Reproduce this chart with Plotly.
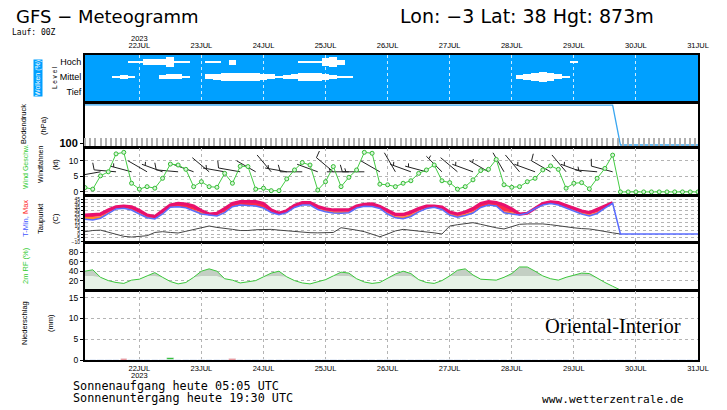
import numpy as np
import pandas as pd
import plotly.graph_objects as go

# ---------------- data ----------------
run_start = "2023-07-21 03:00"
run_end = "2023-07-31 00:00"
day_ticks = ["2023-07-22", "2023-07-23", "2023-07-24", "2023-07-25", "2023-07-26",
             "2023-07-27", "2023-07-28", "2023-07-29", "2023-07-30", "2023-07-31"]
day_tick_labels = ["22JUL", "23JUL", "24JUL", "25JUL", "26JUL", "27JUL",
                   "28JUL", "29JUL", "30JUL", "31JUL"]
year_label = "2023"
cloud_level_names = ["Tief", "Mittel", "Hoch"]

# cloud cover (%) every 3 h
cloud_high = [0, 0, 0, 0, 0, 0, 10, 10, 45, 50, 45, 80, 15, 10, 0, 0, 10, 10, 0, 40,
              0, 0, 0, 0, 0, 0, 0, 0, 10, 10, 15, 60, 80, 40, 0, 0, 0, 0, 0, 0,
              0, 0, 0, 0, 0, 0, 0, 0, 0, 0, 0, 0, 0, 0, 0, 0, 0, 0, 0, 0,
              0, 0, 0, 20, 0, 0, 0, 0, 0, 0, 0, 0, 0, 0, 0, 0, 0, 0, 0, 0]
cloud_mid = [0, 0, 0, 0, 20, 30, 10, 0, 0, 0, 30, 40, 40, 20, 0, 0, 40, 50, 60, 70,
             70, 60, 60, 50, 40, 20, 30, 40, 60, 70, 60, 50, 30, 20, 10, 0, 0, 0, 0, 0,
             0, 0, 0, 0, 0, 0, 0, 0, 0, 0, 0, 0, 0, 0, 0, 0, 30, 50, 60, 80,
             60, 40, 20, 0, 0, 0, 0, 0, 0, 0, 0, 0, 0, 0, 0, 0, 0, 0, 0, 0]

# surface pressure (hPa) - off the top of its scale until the run ends
surface_pressure = [913, 913, 914, 914, 913, 912, 912, 913, 914, 914, 913, 912, 911, 912, 913,
                    914, 914, 913, 912, 911, 911, 912, 913, 913, 912, 911, 911, 912, 913, 913,
                    912, 912, 913, 914, 914, 913, 912, 912, 913, 914, 915, 915, 914, 913, 913,
                    914, 915, 915, 914, 913, 912, 913, 914, 914, 913, 912, 912, 913, 913, 912,
                    911, 911, 912, 913, 913, 912, 911, 911, 910,
                    0, 0, 0, 0, 0, 0, 0, 0, 0, 0, 0]

# wind speed (kt) and direction (deg)
wind_speed = [1.4, 0.9, 5.2, 6.5, 12.3, 12.8, 2.8, 0.9, 1.7, 1.2, 4.4, 9.0, 8.7, 7.3, 1.7,
              3.3, 1.7, 1.5, 6.0, 2.8, 8.3, 8.2, 0.9, 1.2, 0.4, 0.4, 4.2, 7.1, 9.5, 8.7,
              0.6, 3.3, 8.2, 1.7, 4.7, 7.1, 12.8, 12.5, 2.5, 2.3, 1.7, 2.8, 3.6, 6.0, 7.1,
              8.7, 3.6, 3.0, 0.9, 1.7, 3.9, 6.9, 7.3, 10.5, 2.3, 1.5, 1.7, 3.3, 4.4, 7.1,
              8.4, 7.3, 1.2, 2.8, 3.0, 1.0, 4.4, 7.6, 11.9,
              0, 0, 0, 0, 0, 0, 0, 0, 0, 0, 0]
wind_dir = [280, 270, 260, 265, 275, 280, 285, 290, 300, 310, 290, 280, 275, 270, 290, 300,
            310, 290, 280, 275, 280, 285, 300, 310, 320, 300, 280, 275, 270, 280, 290, 300,
            310, 285, 270, 265, 270, 280, 300, 320, 330, 310, 290, 280, 285, 300, 315, 320,
            310, 300, 290, 280, 300, 320, 330, 340, 320, 300, 290, 285, 300, 310, 320, 300,
            290, 280, 275, 280, 285]

# temperature (C)
t_min = [19.0, 18.1, 20.3, 26.7, 32.3, 33.2, 31.0, 25.8, 21.0, 19.4,
         25.8, 34.5, 35.2, 33.9, 30.1, 25.8, 24.5, 23.2, 27.5, 35.2,
         37.4, 36.8, 36.1, 33.5, 27.7, 24.8, 27.5, 34.2, 37.4, 37.4,
         31.6, 28.6, 27.1, 26.8, 27.5, 33.5, 35.7, 35.5, 32.9, 25.8,
         20.9, 19.6, 22.6, 28.6, 32.9, 34.5, 31.6, 24.5, 21.7, 23.9,
         27.1, 34.2, 37.4, 36.1, 27.5, 25.8, 24.5, 27.1, 32.9, 37.4,
         39.4, 37.4, 33.5, 29.7, 25.8, 23.2, 26.5, 33.5, 39.6,
         0, 0, 0, 0, 0, 0, 0, 0, 0, 0, 0]
t_mean = [22.0, 22.0, 23.0, 27.5, 32.5, 33.4, 31.5, 27.0, 23.0, 21.0,
          27.0, 34.7, 35.5, 34.2, 31.0, 27.5, 25.2, 25.0, 28.5, 35.5,
          37.6, 37.0, 36.3, 34.0, 29.0, 26.0, 28.5, 34.5, 37.6, 37.6,
          32.5, 30.5, 29.0, 29.0, 29.0, 33.8, 35.9, 35.8, 33.5, 27.5,
          23.0, 22.5, 25.0, 30.0, 33.5, 34.8, 32.5, 26.5, 24.0, 26.0,
          29.0, 34.5, 37.6, 36.5, 29.5, 28.0, 25.2, 27.0, 33.2, 37.6,
          39.6, 37.6, 34.0, 31.0, 27.5, 25.5, 28.0, 33.8, 39.8]
t_max = [24.5, 25.2, 25.8, 31.0, 35.2, 36.1, 35.2, 30.3, 24.5, 22.6,
         30.1, 37.4, 39.6, 38.7, 36.1, 30.1, 25.8, 26.5, 32.9, 39.4,
         41.7, 41.7, 41.7, 39.4, 31.0, 26.7, 30.1, 36.8, 40.4, 40.4,
         35.5, 32.5, 31.0, 31.0, 31.0, 36.1, 38.1, 38.7, 35.5, 30.3,
         25.2, 25.2, 28.4, 32.9, 36.1, 36.1, 34.8, 28.4, 25.8, 28.4,
         32.9, 39.4, 41.7, 40.6, 37.4, 32.3, 25.8, 26.7, 32.9, 39.4,
         41.5, 40.4, 36.8, 32.9, 29.7, 27.5, 31.6, 36.8, 40.4]
dewpoint = [3.0, 4.5, 5.0, 2.5, -0.5, -3.0, -3.9, -3.0, -2.2, 2.0,
            3.0, 2.0, 1.3, 3.5, 6.0, 8.5, 10.3, 8.5, 6.8, 6.0,
            4.5, 4.5, 5.5, 6.0, 6.0, 5.0, 4.0, 3.0, 2.0, 1.7,
            1.5, 1.5, 2.0, 8.1, 7.0, 5.0, 3.0, 0.0, -3.5, 0.0,
            4.0, 6.0, 5.0, 4.0, 3.0, 1.5, 0.0, 10.3, 12.0, 13.5,
            14.6, 12.5, 10.0, 8.0, 6.5, 9.5, 12.5, 13.0, 13.0, 13.0,
            12.0, 10.5, 9.0, 8.0, 7.0, 6.5, 5.0, 3.0, 1.5, 0.0]

# 2 m relative humidity (%)
rel_hum = [40, 43, 27, 20, 16, 14, 21, 23, 30, 37,
           27, 18, 13, 16, 27, 40, 45, 40, 24, 21,
           15, 18, 20, 28, 36, 40, 28, 20, 15, 13,
           17, 22, 30, 38, 36, 24, 17, 14, 16, 25,
           34, 40, 35, 22, 16, 14, 20, 30, 42, 45,
           32, 23, 22, 21, 27, 35, 49, 49, 40, 30,
           24, 21, 27, 32, 36, 35, 25, 16, 8, 0]
rh_threshold = 30

# precipitation (mm / 3 h)
precip_large = [0, 0, 0, 0, 0, 0, 0, 0, 0, 0, 0, 0.5, 0, 0, 0, 0, 0, 0, 0, 0,
                0, 0, 0, 0, 0, 0, 0, 0, 0, 0, 0, 0, 0, 0, 0, 0, 0, 0, 0, 0,
                0, 0, 0, 0, 0, 0, 0, 0, 0, 0, 0, 0, 0, 0, 0, 0, 0, 0, 0, 0,
                0, 0, 0, 0, 0, 0, 0, 0, 0, 0, 0, 0, 0, 0, 0, 0, 0, 0, 0, 0]
precip_conv = [0, 0, 0, 0, 0, 0.15, 0, 0, 0, 0, 0, 0, 0, 0, 0, 0, 0, 0, 0, 0.15,
               0, 0, 0, 0, 0, 0, 0, 0, 0, 0, 0, 0, 0, 0, 0, 0, 0, 0, 0, 0,
               0, 0, 0, 0, 0, 0, 0, 0, 0, 0, 0, 0, 0, 0, 0, 0, 0, 0, 0, 0,
               0, 0, 0, 0, 0, 0, 0, 0, 0, 0, 0, 0, 0, 0, 0, 0, 0, 0, 0, 0]

# ---------------- geometry / helpers ----------------
W, H = 727, 410
ML, MR, MT, MB = 85, 29, 55, 50
PW, PH = W - ML - MR, H - MT - MB

t0 = pd.Timestamp("2023-07-21 00:00")
times = pd.date_range(run_start, run_end, freq="3h")
hours = ((times - t0) / pd.Timedelta(hours=1)).to_numpy()
day_hours = ((pd.to_datetime(day_ticks) - t0) / pd.Timedelta(hours=1)).to_numpy()
x_range = [hours[0], hours[-1]]


def dom(top_px, bot_px):
    return [(MT + PH - bot_px) / PH, (MT + PH - top_px) / PH]


def pxp(xpx, ypx):
    return (xpx - ML) / PW, (MT + PH - ypx) / PH


DOMAINS = {
    "clouds": dom(55, 102),
    "press": dom(103, 147),
    "wind": dom(148, 195),
    "temp": dom(196, 242),
    "rh": dom(243, 290),
    "prec": dom(291, 360),
}

fig = go.Figure()

# ---- clouds ----
CLOUD_ROWS = [0.62, 1.6, 2.55]
CLOUD_SCALE = 0.008
for level, cover in ((CLOUD_ROWS[2], cloud_high), (CLOUD_ROWS[1], cloud_mid)):
    cover = np.array(cover, dtype=float)
    thick = cover * CLOUD_SCALE
    fig.add_trace(go.Bar(x=hours, y=thick, base=level - thick / 2, width=3,
                         marker=dict(color="white", line=dict(width=0)),
                         xaxis="x", yaxis="y", showlegend=False, hoverinfo="skip"))

# ---- surface pressure ----
fig.add_trace(go.Scatter(x=hours, y=surface_pressure, mode="lines",
                         line=dict(color="#3aa6f0", width=1.3),
                         xaxis="x2", yaxis="y2", showlegend=False))

# ---- wind ----
PX_PER_H = PW / (x_range[1] - x_range[0])
WIND_RANGE = [-1.0, 14.2]
KT_PER_PX = (WIND_RANGE[1] - WIND_RANGE[0]) / 47
BARB_BASE = 6.5
bx, by = [], []
for h, spd, d in list(zip(hours, wind_speed, wind_dir))[::2]:
    r = np.radians(d)
    ux, uy = np.sin(r), np.cos(r)
    qx, qy = uy, -ux

    def seg(a, b):
        bx.extend([h + a[0] / PX_PER_H, h + b[0] / PX_PER_H, None])
        by.extend([BARB_BASE + a[1] * KT_PER_PX, BARB_BASE + b[1] * KT_PER_PX, None])

    L = 22
    tip = (L * ux, L * uy)
    seg((0, 0), tip)
    r5 = int(round(spd / 5))
    n10, n5 = divmod(r5, 2)
    pos = 0.0
    for _ in range(n10):
        b0 = (tip[0] - pos * ux, tip[1] - pos * uy)
        seg(b0, (b0[0] + 7 * qx + 2 * ux, b0[1] + 7 * qy + 2 * uy))
        pos += 3.5
    if n5:
        if n10 == 0:
            pos = 3.5
        b0 = (tip[0] - pos * ux, tip[1] - pos * uy)
        seg(b0, (b0[0] + 3.5 * qx + 1 * ux, b0[1] + 3.5 * qy + 1 * uy))

fig.add_trace(go.Scatter(x=bx, y=by, mode="lines", line=dict(color="#222222", width=1),
                         xaxis="x3", yaxis="y3", showlegend=False, hoverinfo="skip"))
fig.add_trace(go.Scatter(x=hours, y=wind_speed, mode="lines+markers",
                         line=dict(color="#44cc44", width=1),
                         marker=dict(symbol="circle", size=4, color="#d8f5d8",
                                     line=dict(color="#33bb33", width=1)),
                         xaxis="x3", yaxis="y3", showlegend=False))

# ---- temperature ----
n_t = len(t_max)
fig.add_trace(go.Scatter(x=hours[:n_t], y=t_min[:n_t], mode="lines", line=dict(width=0),
                         xaxis="x4", yaxis="y4", showlegend=False, hoverinfo="skip"))
fig.add_trace(go.Scatter(x=hours[:n_t], y=t_mean, mode="lines", line=dict(width=0),
                         fill="tonexty", fillcolor="#ff8a26",
                         xaxis="x4", yaxis="y4", showlegend=False, hoverinfo="skip"))
fig.add_trace(go.Scatter(x=hours[:n_t], y=t_max, mode="lines",
                         line=dict(color="#e8106e", width=3.2),
                         fill="tonexty", fillcolor="#ff2a48",
                         xaxis="x4", yaxis="y4", showlegend=False))
fig.add_trace(go.Scatter(x=hours[:len(dewpoint)], y=dewpoint, mode="lines",
                         line=dict(color="#444444", width=1),
                         xaxis="x4", yaxis="y4", showlegend=False))
fig.add_trace(go.Scatter(x=hours, y=t_min, mode="lines",
                         line=dict(color="#5a6cff", width=1.5),
                         xaxis="x4", yaxis="y4", showlegend=False))

# ---- relative humidity ----
rh = np.array(rel_hum, dtype=float)
fig.add_trace(go.Scatter(x=hours[:len(rh)], y=rh, mode="lines", line=dict(width=0),
                         fill="tozeroy", fillcolor="#c3cfc3",
                         xaxis="x5", yaxis="y5", showlegend=False, hoverinfo="skip"))
fig.add_trace(go.Scatter(x=hours[:len(rh)], y=np.minimum(rh, rh_threshold), mode="lines",
                         line=dict(width=0), fill="tozeroy", fillcolor="#e6f2e6",
                         xaxis="x5", yaxis="y5", showlegend=False, hoverinfo="skip"))
fig.add_trace(go.Scatter(x=hours[:len(rh)], y=rh, mode="lines",
                         line=dict(color="#3cc83c", width=1),
                         xaxis="x5", yaxis="y5", showlegend=False))

# ---- precipitation ----
fig.add_trace(go.Bar(x=hours, y=precip_large, width=2.5, marker=dict(color="#22bb22"),
                     xaxis="x6", yaxis="y6", showlegend=False))
fig.add_trace(go.Bar(x=hours, y=precip_conv, width=2.5, marker=dict(color="#ee2222"),
                     xaxis="x6", yaxis="y6", showlegend=False))

# ---------------- axes ----------------
TICKFONT = dict(family="Liberation Sans, Arial, sans-serif", size=8.5, color="black")
GRID = "#b4b4b4"


def xax(anchor, **kw):
    d = dict(domain=[0, 1], range=x_range, anchor=anchor, tickmode="array",
             tickvals=day_hours, ticktext=day_tick_labels, showgrid=True, gridcolor=GRID,
             griddash="dot", gridwidth=1,
             zeroline=False, showline=True, mirror=True, linecolor="black", linewidth=2,
             ticks="", showticklabels=False, automargin=False,
             tickfont=dict(TICKFONT, size=7.5))
    d.update(kw)
    return d


def yax(domain_key, anchor, **kw):
    d = dict(domain=DOMAINS[domain_key], anchor=anchor, showgrid=True, gridcolor=GRID,
             griddash="dot", gridwidth=1, zeroline=False, showline=True, mirror=True,
             linecolor="black", linewidth=2, ticks="outside", ticklen=3, tickcolor="black",
             tickfont=TICKFONT, fixedrange=True, automargin=False)
    d.update(kw)
    return d


fig.update_layout(
    xaxis=xax("y", side="top", showticklabels=True, gridcolor="rgba(255,255,255,0.8)",
              ticklabelstandoff=2),
    yaxis=yax("clouds", "x", range=[0, 3.0], tickmode="array", tickvals=CLOUD_ROWS,
              ticktext=cloud_level_names, showgrid=False, ticks="outside", ticklen=0,
              tickfont=dict(TICKFONT, size=9)),
    xaxis2=xax("y2", showgrid=False,
               minor=dict(ticks="inside", ticklen=9, tickwidth=2, tickcolor="#b0b0b0",
                          tickmode="linear", tick0=3, dtick=2, showgrid=False)),
    yaxis2=yax("press", "x2", range=[-46, 958], tickmode="array", tickvals=[40],
               ticktext=["<b>100</b>"], showgrid=False, tickfont=dict(TICKFONT, size=11)),
    xaxis3=xax("y3"),
    yaxis3=yax("wind", "x3", range=WIND_RANGE, tickmode="array", tickvals=[0, 5, 10]),
    xaxis4=xax("y4"),
    yaxis4=yax("temp", "x4", range=[-10.3, 49], tickmode="array",
               tickvals=list(range(-10, 50, 5)), tickfont=dict(TICKFONT, size=5), ticklen=2),
    xaxis5=xax("y5"),
    yaxis5=yax("rh", "x5", range=[0, 100], tickmode="array", tickvals=[20, 40, 60, 80]),
    xaxis6=xax("y6", showticklabels=True),
    yaxis6=yax("prec", "x6", range=[0, 16.6], tickmode="array", tickvals=[0, 5, 10, 15]),
    barmode="overlay",
    bargap=0,
    width=W, height=H,
    margin=dict(l=ML, r=MR, t=MT, b=MB, autoexpand=False),
    paper_bgcolor="white", plot_bgcolor="white",
    showlegend=False,
)

# blue background of the cloud panel
fig.add_shape(type="rect", xref="x domain", yref="y domain", x0=0, x1=1, y0=0, y1=1,
              fillcolor="#00a0ff", line=dict(width=0), layer="below")

# ---------------- texts ----------------
ann = []


def text(xpx, ypx, s, size=9, color="black", family="Liberation Sans, Arial, sans-serif",
         angle=0, xanchor="center", bg=None):
    x, y = pxp(xpx, ypx)
    a = dict(x=x, y=y, xref="paper", yref="paper", text=s, showarrow=False,
             textangle=angle, xanchor=xanchor, yanchor="middle",
             font=dict(size=size, color=color, family=family))
    if bg:
        a["bgcolor"] = bg
        a["borderpad"] = 0
    ann.append(a)


MONO = "DejaVu Sans Mono, monospace"
SANS = "DejaVu Sans, sans-serif"
NARROW = "Liberation Sans Narrow, Liberation Sans, Arial, sans-serif"
text(14, 16, "GFS \u2212 Meteogramm", size=18, family=SANS, xanchor="left")
text(398, 16, "Lon: \u22123 Lat: 38 Hgt: 873m", size=19, family=SANS, xanchor="left")
text(10, 32, "Lauf: 00Z", size=8, family=MONO, xanchor="left")
text(71, 386, "Sonnenaufgang heute 05:05 UTC", size=11.8, family=MONO, xanchor="left")
text(71, 398, "Sonnenuntergang heute 19:30 UTC", size=11.8, family=MONO, xanchor="left")
text(540, 399, "www.wetterzentrale.de", size=11.2, family=MONO, xanchor="left")
text(613, 326, "Oriental-Interior", size=20.5,
     family="Liberation Serif, Times New Roman, serif")

# year under / above the first day tick
for yp in (38, 375):
    ann.append(dict(x=day_hours[0], xref="x", y=pxp(0, yp)[1], yref="paper",
                    text=year_label, showarrow=False, yanchor="middle",
                    font=dict(TICKFONT, size=7.5)))

# left-hand panel titles
text(38, 78, "Wolken (%)", size=7, color="white", family=NARROW, angle=-90, bg="#00a0ff")
text(55, 78, "L e v e l", size=6.5, family=NARROW, angle=-90)
text(24, 124, "Bodendruck", size=7.5, family=NARROW, angle=-90)
text(43, 126, "(hPa)", size=7.5, family=NARROW, angle=-90)
text(25, 167, "Wind Geschw.", size=7, color="#33cc33", family=NARROW, angle=-90)
text(40, 165, "Windfahnen", size=7, family=NARROW, angle=-90)
text(55, 165, "(kt)", size=7.5, family=NARROW, angle=-90)
text(25, 219, "<span style='color:#4455ff'>T-Min,</span> <span style='color:#ff2222'>Max</span>",
     size=7.5, family=NARROW, angle=-90)
text(40, 219, "Taupunkt", size=7.5, family=NARROW, angle=-90)
text(55, 219, "(C)", size=7.5, family=NARROW, angle=-90)
text(25, 266, "2m RF (%)", size=7.5, color="#33cc33", family=NARROW, angle=-90)
text(24, 323, "Niederschlag", size=7.5, family=NARROW, angle=-90)
text(50, 323, "(mm)", size=7.5, family=NARROW, angle=-90)

fig.update_layout(annotations=ann)

fig.write_html("out.html", config={"displayModeBar": False},
               post_script="document.body.style.margin='0';")
